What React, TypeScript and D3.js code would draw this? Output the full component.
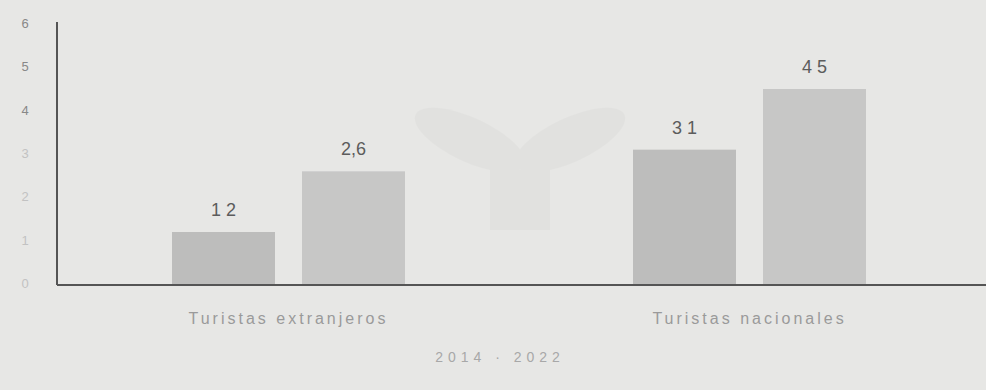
import React from "react";
import * as d3 from "d3";

const categories = ["Turistas extranjeros", "Turistas nacionales"];
const series = ["2014", "2022"];
const values2014 = [1.2, 3.1];
const values2022 = [2.6, 4.5];
const valueLabels2014 = ["1 2", "3 1"];
const valueLabels2022 = ["2,6", "4 5"];
const yTicks = [0, 1, 2, 3, 4, 5, 6];
const legendText = "2014 · 2022";

const W = 986;
const H = 390;
const margin = { left: 57, top: 22 };

export default function App() {
  const y = d3.scaleLinear().domain([0, 6]).range([284, 24]);
  const x0 = d3
    .scaleBand<string>()
    .domain(categories)
    .range([172, 866])
    .paddingInner(0.4946)
    .paddingOuter(0);
  const x1 = d3.scaleBand<string>().domain(series).range([0, x0.bandwidth()]).paddingInner(0.2077).paddingOuter(0);

  const colors = ["#bdbdbc", "#c7c7c6"];
  const rows = categories.map((c, i) => ({
    c,
    vals: [values2014[i], values2022[i]],
    labels: [valueLabels2014[i], valueLabels2022[i]],
  }));

  const font = "Liberation Sans, Arial, sans-serif";

  return (
    <svg width={W} height={H} style={{ position: "absolute", left: 0, top: 0, background: "#e7e7e5" }}>
      <rect x={0} y={0} width={W} height={H} fill="#e7e7e5" />
      <g opacity={0.35} fill="#d8d8d6">
        <ellipse cx={470} cy={140} rx={60} ry={22} transform="rotate(25 470 140)" />
        <ellipse cx={570} cy={140} rx={60} ry={22} transform="rotate(-25 570 140)" />
        <rect x={490} y={170} width={60} height={60} />
      </g>
      {rows.map((r) =>
        r.vals.map((v, j) => {
          const bx = (x0(r.c) as number) + (x1(series[j]) as number);
          const bw = x1.bandwidth();
          return (
            <g key={r.c + j}>
              <rect x={bx} y={y(v)} width={bw} height={y(0) - y(v)} fill={colors[j]} />
              <text x={bx + bw / 2} y={y(v) - 16} textAnchor="middle" fontFamily={font} fontSize={18} fill="#5c5c5c">
                {r.labels[j]}
              </text>
            </g>
          );
        })
      )}
      <line x1={margin.left} x2={margin.left} y1={margin.top} y2={285} stroke="#555" strokeWidth={2} />
      <line x1={margin.left} x2={W} y1={285} y2={285} stroke="#555" strokeWidth={2} />
      {yTicks.map((t) => (
        <text
          key={t}
          x={25}
          y={y(t) + 4}
          textAnchor="middle"
          fontFamily={font}
          fontSize={13}
          fill={t >= 4 ? "#888" : "#c2c2c2"}
        >
          {t}
        </text>
      ))}
      {categories.map((c) => (
        <text
          key={c}
          x={(x0(c) as number) + x0.bandwidth() / 2}
          y={324}
          textAnchor="middle"
          fontFamily={font}
          fontSize={16}
          letterSpacing={3}
          fill="#9a9a9a"
        >
          {c}
        </text>
      ))}
      <text x={500} y={362} textAnchor="middle" fontFamily={font} fontSize={14} letterSpacing={5} fill="#a8a8a8">
        {legendText}
      </text>
    </svg>
  );
}
